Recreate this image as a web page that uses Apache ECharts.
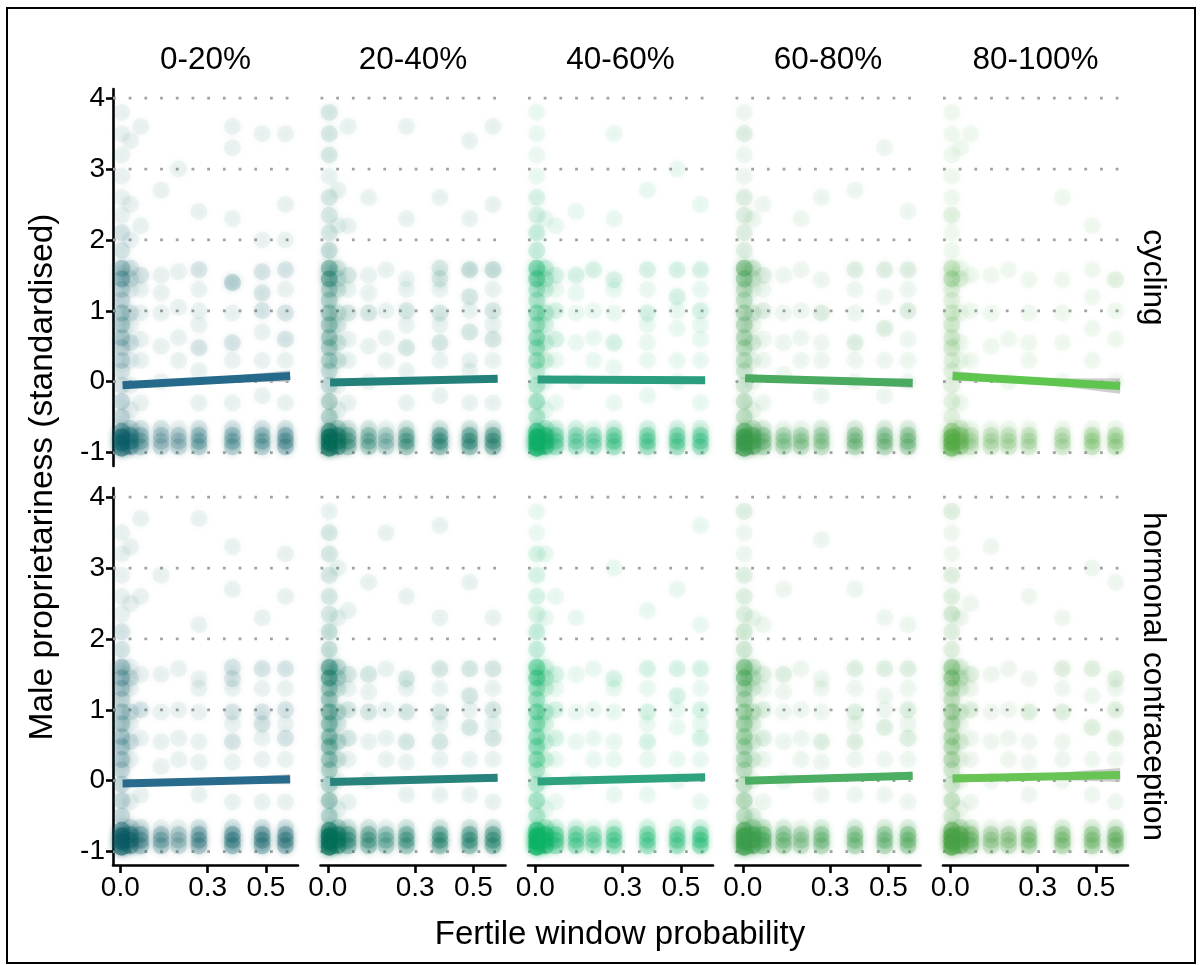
<!DOCTYPE html>
<html><head><meta charset="utf-8">
<script src="https://cdn.jsdelivr.net/npm/echarts@6/dist/echarts.min.js"></script>
<style>html,body{margin:0;padding:0;background:#fff}#c{width:1203px;height:965px}</style>
</head><body><div id="c"></div>
<script>
// ---------- data ----------
const facetCols = ['0-20%', '20-40%', '40-60%', '60-80%', '80-100%'];
const facetRows = ['cycling', 'hormonal contraception'];
const yTicks = [-1, 0, 1, 2, 3, 4];
const xTicks = [0, 0.3, 0.5];
const xTitle = 'Fertile window probability';
const yTitle = 'Male proprietariness (standardised)';

// each column: [x, y1, n1, y2, n2, ...]  (n = number of overlapping observations)
const cyc1 = [
 [0.005, -0.94,14, -0.86,14, -0.78,14, -0.7,8, -0.5,3, -0.28,3, -0.05,2, 0.15,2, 0.3,3, 0.48,3, 0.62,4, 0.8,4, 0.97,4, 1.15,3, 1.3,3, 1.45,6, 1.6,5, 1.85,2, 2.1,2, 2.35,1, 2.6,1, 2.9,1, 3.2,1, 3.5,1, 3.8,1],
 [0.035, -0.92,7, -0.84,7, -0.76,7, -0.66,3, -0.4,1, -0.05,1, 0.3,1, 0.55,2, 0.8,1, 0.97,2, 1.3,1, 1.45,2, 1.6,2, 2.0,1, 2.5,1, 3.4,1],
 [0.07, -0.92,4, -0.84,4, -0.76,4, -0.66,2, -0.3,1, 0.3,1, 0.6,1, 0.97,1, 1.3,1, 1.5,2, 2.2,1, 3.6,1],
 [0.14, -0.92,3, -0.84,3, -0.76,3, -0.66,2, 0.0,1, 0.5,1, 0.97,1, 1.25,1, 1.5,1, 2.7,1],
 [0.2, -0.92,3, -0.84,3, -0.76,3, -0.66,1, 0.3,1, 0.62,1, 1.05,1, 1.55,1, 3.0,1],
 [0.27, -0.92,4, -0.84,4, -0.76,4, -0.66,2, -0.3,1, 0.15,1, 0.48,2, 0.8,1, 1.0,1, 1.3,1, 1.58,2, 2.4,1],
 [0.385, -0.92,4, -0.84,4, -0.76,4, -0.66,2, -0.3,1, 0.3,1, 0.55,2, 0.97,1, 1.4,4, 2.3,1, 3.3,1, 3.6,1],
 [0.487, -0.92,4, -0.84,4, -0.76,4, -0.66,2, -0.2,1, 0.3,1, 0.7,1, 1.0,2, 1.25,2, 1.55,2, 2.0,1, 3.5,1],
 [0.567, -0.92,5, -0.84,5, -0.76,5, -0.66,2, -0.3,1, 0.3,1, 0.6,2, 0.97,2, 1.3,1, 1.58,2, 2.0,1, 2.5,1, 3.5,1]
];
const cyc2 = [
 [0.005, -0.94,18, -0.86,18, -0.78,18, -0.7,10, -0.5,4, -0.28,4, -0.05,3, 0.15,3, 0.3,4, 0.48,4, 0.62,5, 0.8,5, 0.97,5, 1.15,4, 1.3,4, 1.45,8, 1.6,7, 1.85,3, 2.1,2, 2.35,2, 2.6,2, 2.9,1, 3.2,2, 3.5,2, 3.8,2],
 [0.035, -0.92,9, -0.84,9, -0.76,9, -0.66,4, -0.4,1, -0.05,1, 0.3,2, 0.55,2, 0.8,2, 0.97,2, 1.3,2, 1.45,2, 1.6,2, 2.2,1, 2.7,1],
 [0.07, -0.92,5, -0.84,5, -0.76,5, -0.66,2, -0.3,1, 0.3,1, 0.6,1, 0.97,2, 1.3,1, 1.5,2, 2.2,1, 3.6,1],
 [0.14, -0.92,4, -0.84,4, -0.76,4, -0.66,2, 0.0,1, 0.5,1, 0.97,2, 1.25,1, 1.5,1, 2.6,1],
 [0.2, -0.92,3, -0.84,3, -0.76,3, -0.66,1, 0.3,1, 0.62,1, 1.0,1, 1.58,1],
 [0.27, -0.92,5, -0.84,5, -0.76,5, -0.66,2, -0.3,1, 0.15,1, 0.48,2, 0.8,1, 1.0,2, 1.3,1, 1.45,1, 2.3,1, 3.6,1],
 [0.385, -0.92,6, -0.84,6, -0.76,6, -0.66,2, -0.2,1, 0.3,1, 0.55,2, 0.8,1, 0.97,2, 1.3,1, 1.45,2, 1.6,2, 2.6,1],
 [0.487, -0.92,6, -0.84,6, -0.76,6, -0.66,2, -0.3,1, 0.15,1, 0.3,1, 0.7,2, 1.0,1, 1.2,2, 1.58,3, 2.3,1, 3.4,1],
 [0.567, -0.92,6, -0.84,6, -0.76,6, -0.66,2, -0.3,1, 0.3,1, 0.6,2, 0.8,1, 1.0,2, 1.3,1, 1.58,3, 2.5,1, 3.6,1]
];
const cyc3 = [
 [0.005, -0.94,22, -0.86,22, -0.78,22, -0.7,12, -0.5,4, -0.28,5, -0.05,4, 0.15,3, 0.3,5, 0.48,5, 0.62,6, 0.8,5, 0.97,6, 1.15,4, 1.3,4, 1.45,8, 1.6,8, 1.85,3, 2.1,3, 2.35,2, 2.6,2, 2.9,1, 3.2,1, 3.5,1, 3.8,1],
 [0.035, -0.92,10, -0.84,10, -0.76,10, -0.66,4, -0.4,1, 0.0,1, 0.3,2, 0.55,2, 0.8,2, 0.97,3, 1.3,2, 1.45,3, 1.6,3, 2.3,1],
 [0.07, -0.92,5, -0.84,5, -0.76,5, -0.66,2, -0.3,1, 0.3,1, 0.6,2, 1.0,2, 1.3,1, 1.5,2, 2.2,1],
 [0.14, -0.92,4, -0.84,4, -0.76,4, -0.66,2, 0.0,1, 0.55,1, 0.97,1, 1.25,1, 1.5,2, 2.4,1],
 [0.2, -0.92,4, -0.84,4, -0.76,4, -0.66,1, 0.3,1, 0.62,1, 1.0,1, 1.58,2],
 [0.27, -0.92,5, -0.84,5, -0.76,5, -0.66,2, -0.3,1, 0.2,1, 0.55,2, 0.97,1, 1.3,1, 1.44,2, 2.3,1, 3.5,1],
 [0.385, -0.92,5, -0.84,5, -0.76,5, -0.66,2, -0.2,1, 0.3,1, 0.55,1, 0.8,1, 0.97,2, 1.3,1, 1.58,2, 2.7,1],
 [0.487, -0.92,5, -0.84,5, -0.76,5, -0.66,2, 0.0,1, 0.3,1, 0.75,1, 1.0,1, 1.2,2, 1.58,2, 3.0,1],
 [0.567, -0.92,5, -0.84,5, -0.76,5, -0.66,2, -0.3,1, 0.3,1, 0.6,1, 0.8,1, 1.0,2, 1.3,1, 1.58,2, 2.5,1]
];
const cyc4 = [
 [0.005, -0.94,20, -0.86,20, -0.78,20, -0.7,11, -0.5,4, -0.28,4, -0.05,3, 0.15,3, 0.3,4, 0.48,4, 0.62,5, 0.8,5, 0.97,5, 1.15,4, 1.3,4, 1.45,7, 1.6,9, 1.85,2, 2.1,2, 2.35,2, 2.6,2, 2.9,1, 3.2,1, 3.5,2, 3.8,1],
 [0.035, -0.92,9, -0.84,9, -0.76,9, -0.66,4, -0.4,1, 0.0,1, 0.3,1, 0.55,2, 0.8,1, 0.97,2, 1.3,1, 1.45,2, 1.6,3, 2.3,1],
 [0.07, -0.92,5, -0.84,5, -0.76,5, -0.66,2, -0.3,1, 0.3,1, 0.6,1, 1.0,2, 1.3,1, 1.5,2, 2.5,1],
 [0.14, -0.92,4, -0.84,4, -0.76,4, -0.66,1, 0.1,1, 0.55,1, 0.97,1, 1.5,1],
 [0.2, -0.92,4, -0.84,4, -0.76,4, -0.66,1, 0.3,1, 0.62,1, 1.0,1, 1.58,1, 2.3,1],
 [0.27, -0.92,4, -0.84,4, -0.76,4, -0.66,2, -0.2,1, 0.3,1, 0.55,1, 0.97,2, 1.44,1, 2.6,1],
 [0.385, -0.92,5, -0.84,5, -0.76,5, -0.66,2, 0.0,1, 0.3,1, 0.55,2, 0.97,1, 1.3,1, 1.58,2, 2.7,1],
 [0.487, -0.92,5, -0.84,5, -0.76,5, -0.66,2, -0.2,1, 0.3,1, 0.75,2, 1.2,1, 1.58,2, 3.3,1],
 [0.567, -0.92,5, -0.84,5, -0.76,5, -0.66,2, 0.0,1, 0.3,1, 0.6,1, 1.0,2, 1.3,1, 1.58,2, 2.4,1]
];
const cyc5 = [
 [0.005, -0.94,14, -0.86,14, -0.78,14, -0.7,7, -0.5,2, -0.28,2, -0.05,2, 0.15,2, 0.3,2, 0.48,3, 0.62,3, 0.8,3, 0.97,3, 1.15,2, 1.3,2, 1.45,5, 1.6,4, 1.85,1, 2.1,1, 2.35,2, 2.6,1, 2.9,1, 3.2,1, 3.5,1, 3.8,1],
 [0.035, -0.92,6, -0.84,6, -0.76,6, -0.66,3, -0.3,1, 0.3,1, 0.55,1, 0.97,1, 1.45,2, 1.6,1, 3.3,1],
 [0.07, -0.92,3, -0.84,3, -0.76,3, -0.66,1, 0.3,1, 1.0,1, 1.5,1, 3.5,1],
 [0.14, -0.92,3, -0.84,3, -0.76,3, -0.66,1, 0.5,1, 0.97,1, 1.5,1],
 [0.2, -0.92,3, -0.84,3, -0.76,3, -0.66,1, 0.0,1, 0.6,1, 1.58,1],
 [0.27, -0.92,3, -0.84,3, -0.76,3, -0.66,1, 0.3,1, 0.55,1, 0.97,1, 1.44,1],
 [0.385, -0.92,3, -0.84,3, -0.76,3, -0.66,1, 0.0,1, 0.55,1, 0.97,1, 1.44,1, 2.6,1],
 [0.487, -0.92,4, -0.84,4, -0.76,4, -0.66,1, 0.3,1, 0.75,1, 1.2,1, 1.58,1, 2.2,1],
 [0.567, -0.92,4, -0.84,4, -0.76,4, -0.66,1, 0.0,1, 0.6,1, 1.0,1, 1.44,2]
];
const hor1 = [
 [0.005, -0.94,16, -0.86,16, -0.78,16, -0.7,9, -0.5,3, -0.28,3, -0.05,3, 0.15,3, 0.3,4, 0.48,4, 0.62,4, 0.8,4, 0.97,4, 1.15,3, 1.3,4, 1.45,5, 1.6,5, 1.85,2, 2.1,2, 2.35,1, 2.6,1, 2.9,1, 3.2,1, 3.5,1],
 [0.035, -0.92,8, -0.84,8, -0.76,8, -0.66,3, -0.3,1, 0.3,1, 0.55,2, 0.8,1, 0.97,2, 1.3,1, 1.45,2, 1.6,1, 2.5,1, 3.3,1],
 [0.07, -0.92,5, -0.84,5, -0.76,5, -0.66,2, -0.2,1, 0.6,1, 1.0,2, 1.5,1, 2.6,1, 3.7,1],
 [0.14, -0.92,4, -0.84,4, -0.76,4, -0.66,1, 0.2,1, 0.55,1, 0.97,1, 1.5,1, 2.9,1],
 [0.2, -0.92,3, -0.84,3, -0.76,3, -0.66,1, 0.3,1, 0.6,1, 1.0,1, 1.58,1],
 [0.27, -0.92,5, -0.84,5, -0.76,5, -0.66,2, -0.2,1, 0.26,1, 0.55,1, 0.97,1, 1.3,1, 1.44,1, 2.2,1, 3.7,1],
 [0.385, -0.92,6, -0.84,6, -0.76,6, -0.66,2, -0.3,1, 0.26,1, 0.55,2, 0.8,1, 0.97,2, 1.3,1, 1.44,2, 1.6,2, 2.7,1, 3.3,1],
 [0.487, -0.92,6, -0.84,6, -0.76,6, -0.66,2, -0.3,1, 0.3,1, 0.6,1, 0.8,2, 0.97,2, 1.3,1, 1.58,2, 2.3,1],
 [0.567, -0.92,6, -0.84,6, -0.76,6, -0.66,2, -0.3,1, 0.3,1, 0.6,2, 0.8,1, 1.0,2, 1.3,1, 1.58,2, 2.6,1, 3.2,1]
];
const hor2 = [
 [0.005, -0.94,22, -0.86,22, -0.78,22, -0.7,12, -0.5,4, -0.28,5, -0.05,4, 0.15,4, 0.3,5, 0.48,6, 0.62,6, 0.8,6, 0.97,7, 1.15,5, 1.3,5, 1.45,9, 1.6,9, 1.85,3, 2.1,3, 2.35,2, 2.6,2, 2.9,2, 3.2,2, 3.5,2, 3.8,1],
 [0.035, -0.92,10, -0.84,10, -0.76,10, -0.66,4, -0.4,1, 0.0,1, 0.3,2, 0.55,3, 0.8,2, 0.97,3, 1.3,2, 1.45,3, 1.6,3, 2.3,1, 3.0,1],
 [0.07, -0.92,6, -0.84,6, -0.76,6, -0.66,2, -0.3,1, 0.3,1, 0.6,2, 1.0,2, 1.3,1, 1.5,2, 2.4,1],
 [0.14, -0.92,5, -0.84,5, -0.76,5, -0.66,2, 0.0,1, 0.55,1, 0.97,2, 1.25,1, 1.5,2, 2.8,1],
 [0.2, -0.92,4, -0.84,4, -0.76,4, -0.66,1, 0.3,1, 0.6,1, 1.0,1, 1.58,1, 3.5,1],
 [0.27, -0.92,5, -0.84,5, -0.76,5, -0.66,2, -0.2,1, 0.26,1, 0.55,2, 0.97,2, 1.3,1, 1.44,2, 2.6,1],
 [0.385, -0.92,6, -0.84,6, -0.76,6, -0.66,2, -0.2,1, 0.3,1, 0.55,2, 0.8,1, 0.97,2, 1.3,1, 1.58,2, 2.3,1, 3.6,1],
 [0.487, -0.92,6, -0.84,6, -0.76,6, -0.66,2, -0.2,1, 0.3,1, 0.75,2, 1.0,1, 1.2,2, 1.58,2, 2.8,1],
 [0.567, -0.92,6, -0.84,6, -0.76,6, -0.66,2, -0.3,1, 0.3,1, 0.6,2, 0.8,1, 1.0,2, 1.3,1, 1.58,2, 2.3,1]
];
const hor3 = [
 [0.005, -0.94,24, -0.86,24, -0.78,24, -0.7,13, -0.5,4, -0.28,5, -0.05,4, 0.15,4, 0.3,6, 0.48,6, 0.62,6, 0.8,6, 0.97,7, 1.15,5, 1.3,5, 1.45,9, 1.6,8, 1.85,3, 2.1,3, 2.35,2, 2.6,2, 2.9,2, 3.2,2, 3.5,1, 3.8,1],
 [0.035, -0.92,11, -0.84,11, -0.76,11, -0.66,4, -0.4,1, 0.0,1, 0.3,2, 0.55,2, 0.8,2, 0.97,3, 1.3,2, 1.45,3, 1.6,2, 2.3,1, 3.2,1],
 [0.07, -0.92,6, -0.84,6, -0.76,6, -0.66,2, -0.3,1, 0.3,1, 0.6,2, 1.0,2, 1.3,1, 1.5,2, 2.6,1],
 [0.14, -0.92,5, -0.84,5, -0.76,5, -0.66,2, 0.0,1, 0.55,1, 0.97,1, 1.5,1, 2.3,1],
 [0.2, -0.92,4, -0.84,4, -0.76,4, -0.66,1, 0.3,1, 0.6,1, 1.0,1, 1.58,1],
 [0.27, -0.92,5, -0.84,5, -0.76,5, -0.66,2, -0.2,1, 0.3,1, 0.55,1, 0.97,1, 1.3,1, 1.44,2, 3.0,1],
 [0.385, -0.92,5, -0.84,5, -0.76,5, -0.66,2, -0.2,1, 0.3,1, 0.55,2, 0.8,1, 0.97,2, 1.3,1, 1.58,2, 2.4,1],
 [0.487, -0.92,5, -0.84,5, -0.76,5, -0.66,2, 0.0,1, 0.3,1, 0.75,1, 1.0,1, 1.2,2, 1.58,2, 2.7,1],
 [0.567, -0.92,6, -0.84,6, -0.76,6, -0.66,2, -0.3,1, 0.3,1, 0.6,2, 0.8,1, 1.0,2, 1.3,1, 1.58,2, 2.2,1, 3.6,1]
];
const hor4 = [
 [0.005, -0.94,22, -0.86,22, -0.78,22, -0.7,13, -0.5,4, -0.28,5, -0.05,4, 0.15,4, 0.3,5, 0.48,5, 0.62,6, 0.8,6, 0.97,6, 1.15,5, 1.3,5, 1.45,10, 1.6,9, 1.85,3, 2.1,3, 2.35,2, 2.6,2, 2.9,2, 3.2,1, 3.5,1, 3.8,2],
 [0.035, -0.92,12, -0.84,12, -0.76,12, -0.66,5, -0.5,2, 0.0,1, 0.3,2, 0.55,2, 0.8,2, 0.97,3, 1.3,2, 1.45,3, 1.6,3, 2.3,1],
 [0.07, -0.92,8, -0.84,8, -0.76,8, -0.66,3, -0.3,1, 0.3,1, 0.6,2, 1.0,2, 1.3,1, 1.5,2, 2.2,1],
 [0.14, -0.92,5, -0.84,5, -0.76,5, -0.66,2, 0.0,1, 0.55,1, 0.97,1, 1.25,1, 1.5,2, 2.7,1],
 [0.2, -0.92,4, -0.84,4, -0.76,4, -0.66,1, 0.3,1, 0.6,1, 1.0,1, 1.58,1],
 [0.27, -0.92,5, -0.84,5, -0.76,5, -0.66,2, -0.2,1, 0.26,1, 0.55,2, 0.97,1, 1.3,1, 1.44,1, 3.4,1],
 [0.385, -0.92,5, -0.84,5, -0.76,5, -0.66,2, -0.2,1, 0.3,1, 0.55,2, 0.8,1, 0.97,2, 1.3,1, 1.58,2, 2.7,1],
 [0.487, -0.92,5, -0.84,5, -0.76,5, -0.66,2, -0.2,1, 0.3,1, 0.75,2, 1.0,1, 1.2,1, 1.58,2, 2.3,1],
 [0.567, -0.92,6, -0.84,6, -0.76,6, -0.66,2, -0.3,1, 0.3,1, 0.6,2, 0.8,1, 1.0,2, 1.3,1, 1.58,2, 2.2,1]
];
const hor5 = [
 [0.005, -0.94,20, -0.86,20, -0.78,20, -0.7,11, -0.5,3, -0.28,4, -0.05,3, 0.15,3, 0.3,5, 0.48,5, 0.62,5, 0.8,5, 0.97,6, 1.15,4, 1.3,4, 1.45,8, 1.6,7, 1.85,2, 2.1,2, 2.35,3, 2.6,2, 2.9,2, 3.2,1, 3.5,1, 3.8,2],
 [0.035, -0.92,10, -0.84,10, -0.76,10, -0.66,4, -0.4,1, 0.0,1, 0.3,1, 0.55,2, 0.8,1, 0.97,2, 1.3,2, 1.45,3, 1.6,2, 2.3,1],
 [0.07, -0.92,6, -0.84,6, -0.76,6, -0.66,2, -0.3,1, 0.3,1, 0.6,1, 1.0,2, 1.3,1, 1.5,2, 2.5,1],
 [0.14, -0.92,4, -0.84,4, -0.76,4, -0.66,1, 0.0,1, 0.55,1, 0.97,1, 1.5,1, 3.3,1],
 [0.2, -0.92,4, -0.84,4, -0.76,4, -0.66,1, 0.3,1, 0.6,1, 1.0,1, 1.58,1],
 [0.27, -0.92,5, -0.84,5, -0.76,5, -0.66,2, -0.2,1, 0.26,1, 0.55,1, 0.97,2, 1.44,1, 2.6,1],
 [0.385, -0.92,5, -0.84,5, -0.76,5, -0.66,2, 0.0,1, 0.3,1, 0.55,1, 0.97,2, 1.3,1, 1.58,2, 2.3,1],
 [0.487, -0.92,5, -0.84,5, -0.76,5, -0.66,2, -0.2,1, 0.3,1, 0.75,2, 1.2,1, 1.58,2, 3.0,1],
 [0.567, -0.92,6, -0.84,6, -0.76,6, -0.66,2, -0.3,1, 0.3,1, 0.6,2, 1.0,2, 1.3,1, 1.44,2, 2.8,1]
];

// linear fits: x extent and fitted y at start / end
const fitX = [0.008, 0.583];
const cycFit = [[-0.05, 0.08], [-0.01, 0.04], [0.03, 0.02], [0.05, -0.02], [0.08, -0.06]];
const horFit = [[-0.04, 0.02], [-0.02, 0.04], [-0.01, 0.05], [0.0, 0.07], [0.03, 0.08]];
// CI half-widths at start / middle / end
const cycCI = [[0.05, 0.03, 0.08], [0.04, 0.025, 0.05], [0.04, 0.025, 0.05], [0.05, 0.025, 0.07], [0.07, 0.035, 0.11]];
const horCI = [[0.05, 0.025, 0.07], [0.04, 0.025, 0.05], [0.04, 0.025, 0.05], [0.05, 0.025, 0.06], [0.06, 0.035, 0.1]];

// ---------- styling / layout ----------
const pointColors = [['#0d5f69', '#076c59', '#12b06a', '#3d9b4d', '#55ab47'],
                     ['#0c5c66', '#06705a', '#10b468', '#3fa04f', '#4aa348']];
const lineColors = [['#25698b', '#23807b', '#2b9e80', '#4aaa60', '#5ec64f'],
                    ['#296b8c', '#27837c', '#2fa280', '#4cae62', '#67c455']];
const FONT = "'Liberation Sans', Arial, Helvetica, sans-serif";
const ALPHA = 0.05;
const rowTops = [89, 488], panelH = 377;
const colLefts = [113, 320.5, 528, 735.5, 943], panelW = 185;
const xMin = -0.025, xMax = 0.61, yMin = -1.19, yMax = 4.13;

const panels = [cyc1, cyc2, cyc3, cyc4, cyc5, hor1, hor2, hor3, hor4, hor5];
const fits = [cycFit, horFit], cis = [cycCI, horCI];

const grids = [], xAxes = [], yAxes = [], series = [];
for (let i = 0; i < 10; i++) {
  const r = Math.floor(i / 5), c = i % 5;
  grids.push({left: colLefts[c], top: rowTops[r], width: panelW, height: panelH, containLabel: false, outerBoundsMode: 'none'});
  const showX = r === 1, showY = c === 0;
  xAxes.push({
    gridIndex: i, type: 'value', min: xMin, max: xMax,
    axisLine: {show: showX, onZero: false, lineStyle: {color: '#000', width: 2.6}},
    axisTick: {show: showX, customValues: xTicks, length: 8, lineStyle: {color: '#000', width: 2.6}},
    axisLabel: {show: showX, customValues: xTicks, formatter: v => v.toFixed(1), fontSize: 28, color: '#000', margin: 9, fontFamily: FONT},
    splitLine: {show: false}
  });
  yAxes.push({
    gridIndex: i, type: 'value', min: yMin, max: yMax,
    axisLine: {show: showY, onZero: false, lineStyle: {color: '#000', width: 2.6}},
    axisTick: {show: showY, customValues: yTicks, length: 7, lineStyle: {color: '#000', width: 2.6}},
    axisLabel: {show: showY, customValues: yTicks, formatter: v => String(v), fontSize: 28, color: '#000', margin: 8, fontFamily: FONT},
    splitLine: {show: false}
  });
  // dotted horizontal grid lines
  yTicks.forEach(v => series.push({
    type: 'line', xAxisIndex: i, yAxisIndex: i, data: [[xMin, v], [xMax, v]], symbol: 'none', silent: true, z: 1,
    lineStyle: {color: '#a2a2a2', width: 2.8, type: [2.8, 12.9]}
  }));
  // points
  const pts = [];
  panels[i].forEach(col => {
    const x = col[0];
    for (let k = 1; k < col.length; k += 2) {
      pts.push({value: [x, col[k]], itemStyle: {opacity: 1 - Math.pow(1 - ALPHA, col[k + 1])}});
    }
  });
  series.push({type: 'scatter', xAxisIndex: i, yAxisIndex: i, data: pts, symbol: 'circle', symbolSize: 17,
    itemStyle: {color: pointColors[r][c], shadowBlur: 6, shadowColor: pointColors[r][c]}, silent: true, z: 2});
  // confidence band
  const f = fits[r][c], w = cis[r][c];
  series.push({type: 'custom', xAxisIndex: i, yAxisIndex: i, silent: true, z: 3,
    data: [[fitX[0], f[0]]],
    renderItem: (params, api) => {
      const xm = (fitX[0] + fitX[1]) / 2, ym = (f[0] + f[1]) / 2;
      const up = [[fitX[0], f[0] + w[0]], [xm, ym + w[1]], [fitX[1], f[1] + w[2]]];
      const lo = [[fitX[1], f[1] - w[2]], [xm, ym - w[1]], [fitX[0], f[0] - w[0]]];
      return {type: 'polygon', shape: {points: up.concat(lo).map(p => api.coord(p))},
              style: {fill: '#bdbdbd', opacity: 0.75}};
    }});
  // fitted line
  series.push({type: 'line', xAxisIndex: i, yAxisIndex: i, data: [[fitX[0], f[0]], [fitX[1], f[1]]],
    symbol: 'none', silent: true, z: 4, lineStyle: {color: lineColors[r][c], width: 8, cap: 'butt'}});
}

const graphic = [];
facetCols.forEach((t, c) => graphic.push({type: 'text', x: colLefts[c] + panelW / 2, y: 60,
  style: {text: t, font: '31.5px ' + FONT, fill: '#000', textAlign: 'center', textVerticalAlign: 'middle'}}));
facetRows.forEach((t, r) => graphic.push({type: 'text', x: 1153, y: rowTops[r] + panelH / 2, rotation: -Math.PI / 2,
  style: {text: t, font: '31.5px ' + FONT, fill: '#000', textAlign: 'center', textVerticalAlign: 'middle'}}));
graphic.push({type: 'text', x: 620, y: 935, style: {text: xTitle, font: '33px ' + FONT, fill: '#000', textAlign: 'center', textVerticalAlign: 'middle'}});
graphic.push({type: 'text', x: 43, y: 477, rotation: Math.PI / 2, style: {text: yTitle, font: '33.5px ' + FONT, fill: '#000', textAlign: 'center', textVerticalAlign: 'middle'}});
graphic.push({type: 'rect', shape: {x: 7, y: 8, width: 1188, height: 955}, style: {fill: 'none', stroke: '#000', lineWidth: 2}, silent: true});

const chart = echarts.init(document.getElementById('c'), null, {renderer: 'canvas'});
chart.setOption({
  animation: false, backgroundColor: '#fff',
  grid: grids, xAxis: xAxes, yAxis: yAxes, series: series, graphic: graphic
});
</script></body></html>
